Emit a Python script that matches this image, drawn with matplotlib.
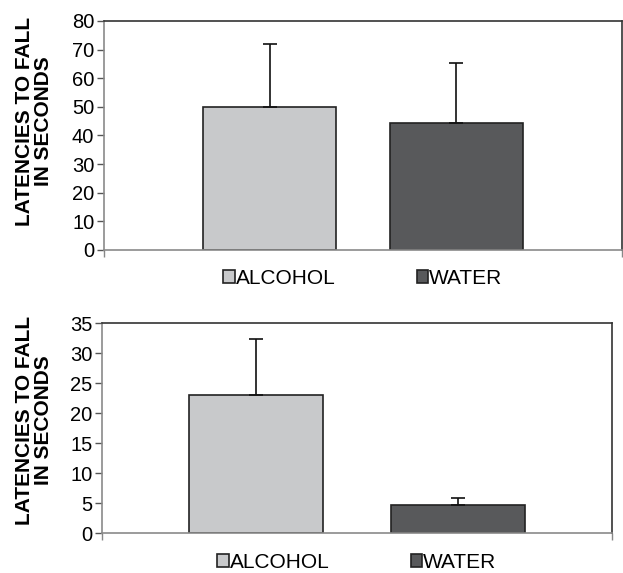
import matplotlib
matplotlib.use("Agg")
import matplotlib.pyplot as plt

plt.rcParams['font.family'] = ['Liberation Sans', 'DejaVu Sans']

groups = ["ALCOHOL", "WATER"]
bar_colors = ["#c8c9cb", "#58595b"]

# top panel
top_means = [50.0, 44.4]
top_errs = [22.1, 20.9]
top_yticks = [0, 10, 20, 30, 40, 50, 60, 70, 80]

# bottom panel
bottom_means = [23.0, 4.6]
bottom_errs = [9.4, 1.2]
bottom_yticks = [0, 5, 10, 15, 20, 25, 30, 35]

ylabel = "LATENCIES TO FALL\nIN SECONDS"

fig = plt.figure(figsize=(6.23, 5.73), dpi=100)
ax_top = fig.add_axes([0.167, 0.5637, 0.831, 0.3997])
ax_bot = fig.add_axes([0.1637, 0.0698, 0.8186, 0.3665])


def draw_panel(ax, means, errs, yticks, offset, width, label_x, label_y, legend_y):
    positions = [-offset, offset]
    handles = []
    for i in range(len(groups)):
        b = ax.bar(positions[i], means[i], width=width, color=bar_colors[i],
                   edgecolor="#222222", linewidth=1.2, label=groups[i], zorder=2)
        ax.errorbar(positions[i], means[i], yerr=[[0], [errs[i]]], fmt="none",
                    ecolor="#111111", elinewidth=1.2, capsize=5, capthick=1.2, zorder=3)
        handles.append(b)
    ax.set_xlim(-1, 1)
    ax.set_ylim(yticks[0], yticks[-1])
    ax.set_yticks(yticks)
    ax.set_xticks([-1, 1])
    ax.set_xticklabels(["", ""])
    ax.tick_params(axis="y", direction="out", length=5, width=1, color="#555555",
                   labelsize=14.5, pad=2)
    ax.tick_params(axis="x", direction="out", length=5, width=1, color="#888888")
    for side in ["top", "right"]:
        ax.spines[side].set_color("#333333")
        ax.spines[side].set_linewidth(1.2)
    for side in ["left", "bottom"]:
        ax.spines[side].set_color("#8a8a8a")
        ax.spines[side].set_linewidth(1.2)
    ax.set_ylabel(ylabel, fontsize=15, fontweight="bold", linespacing=1.02)
    ax.yaxis.set_label_coords(label_x, label_y)
    ax.legend(handles=handles, labels=groups, loc="upper center",
              bbox_to_anchor=(0.5, legend_y), ncol=2, frameon=False, fontsize=15,
              handlelength=0.55, handleheight=0.55, handletextpad=0.05,
              columnspacing=3.9, borderaxespad=0)


draw_panel(ax_top, top_means, top_errs, top_yticks, 0.36, 0.514, -0.098, 0.563, -0.045)
draw_panel(ax_bot, bottom_means, bottom_errs, bottom_yticks, 0.396, 0.525, -0.096, 0.538, -0.055)

fig.savefig("out.png", dpi=100)
